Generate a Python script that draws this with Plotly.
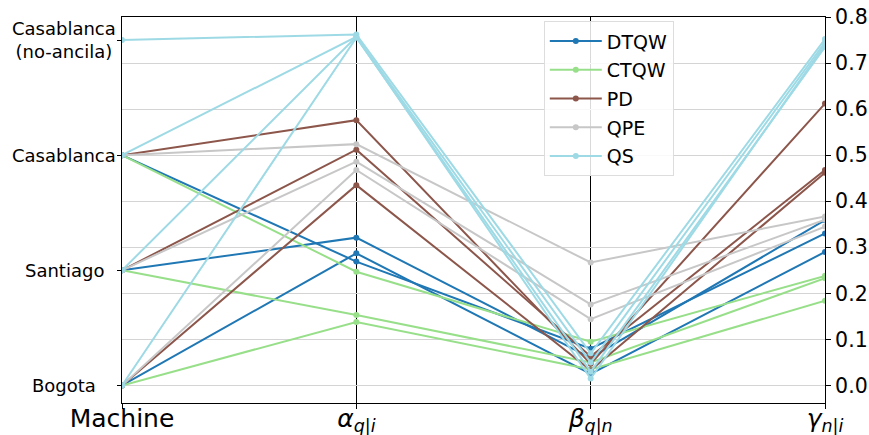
import plotly.graph_objects as go

# ---- data ----
machines = ["Bogota", "Santiago", "Casablanca", "Casablanca<br>(no-ancila)"]
axis_labels = ["Machine", "<i>α</i><sub><i>q|i</i></sub>",
               "<i>β</i><sub><i>q|n</i></sub>", "<i>γ</i><sub><i>n|i</i></sub>"]

algorithms = ["DTQW", "CTQW", "PD", "QPE", "QS"]
colors = {"DTQW": "#1f77b4", "CTQW": "#98df8a", "PD": "#8c564b",
          "QPE": "#c7c7c7", "QS": "#9edae5"}

dtqw_machine = ["Bogota", "Santiago", "Casablanca"]
dtqw_alpha = [0.287, 0.321, 0.269]
dtqw_beta = [0.025, 0.060, 0.080]
dtqw_gamma = [0.290, 0.359, 0.330]

ctqw_machine = ["Bogota", "Santiago", "Casablanca"]
ctqw_alpha = [0.138, 0.153, 0.247]
ctqw_beta = [0.035, 0.050, 0.095]
ctqw_gamma = [0.184, 0.233, 0.238]

pd_machine = ["Bogota", "Santiago", "Casablanca"]
pd_alpha = [0.435, 0.512, 0.576]
pd_beta = [0.033, 0.063, 0.047]
pd_gamma = [0.462, 0.468, 0.612]

qpe_machine = ["Bogota", "Santiago", "Casablanca"]
qpe_alpha = [0.468, 0.486, 0.524]
qpe_beta = [0.144, 0.176, 0.267]
qpe_gamma = [0.345, 0.360, 0.367]

qs_machine = ["Bogota", "Santiago", "Casablanca", "Casablanca<br>(no-ancila)"]
qs_alpha = [0.755, 0.757, 0.757, 0.762]
qs_beta = [0.030, 0.015, 0.050, 0.070]
qs_gamma = [0.735, 0.740, 0.745, 0.752]

y_ticks = [0.0, 0.1, 0.2, 0.3, 0.4, 0.5, 0.6, 0.7, 0.8]

series = {
    "DTQW": (dtqw_machine, dtqw_alpha, dtqw_beta, dtqw_gamma),
    "CTQW": (ctqw_machine, ctqw_alpha, ctqw_beta, ctqw_gamma),
    "PD": (pd_machine, pd_alpha, pd_beta, pd_gamma),
    "QPE": (qpe_machine, qpe_alpha, qpe_beta, qpe_gamma),
    "QS": (qs_machine, qs_alpha, qs_beta, qs_gamma),
}

# machine categories encoded on the shared numeric scale
machine_code = {m: i * 0.25 for i, m in enumerate(machines)}

fig = go.Figure()
xs = list(range(len(axis_labels)))
for alg in algorithms:
    mach, a, b, g = series[alg]
    for k in range(len(mach)):
        fig.add_trace(go.Scatter(
            x=xs, y=[machine_code[mach[k]], a[k], b[k], g[k]],
            mode="lines+markers", name=alg, legendgroup=alg,
            showlegend=(k == 0),
            line=dict(color=colors[alg], width=2),
            marker=dict(color=colors[alg], size=6),
            yaxis="y",
        ))

# invisible trace to activate left categorical axis
fig.add_trace(go.Scatter(x=[0], y=[0], yaxis="y2", mode="markers",
                         marker=dict(opacity=0), showlegend=False,
                         hoverinfo="skip"))

# centred machine labels on the left axis
for m in machines:
    fig.add_annotation(text=m, xref="paper", x=-0.0825, xanchor="center",
                       yref="y", y=machine_code[m], yanchor="middle",
                       showarrow=False, align="center",
                       font=dict(size=18, family="DejaVu Sans",
                                 color="black"))

yr = [-0.038, 0.8]
fig.update_layout(
    width=869, height=435,
    margin=dict(l=122, r=44, t=17, b=32),
    paper_bgcolor="white", plot_bgcolor="white",
    font=dict(family="DejaVu Sans", color="black"),
    xaxis=dict(range=[0, 3], tickvals=xs, ticktext=axis_labels,
               tickfont=dict(size=25), showgrid=True, gridcolor="black",
               gridwidth=1, showline=True, mirror=True, linecolor="black",
               linewidth=1, ticks="outside", ticklen=5, tickcolor="black",
               zeroline=False, automargin=False, ticklabelstandoff=-12),
    yaxis=dict(range=yr, side="right", tickvals=y_ticks,
               tickformat=".1f", tickfont=dict(size=20.5),
               showgrid=True, gridcolor="#d4d4d4", gridwidth=1,
               showline=True, mirror=True, linecolor="black", linewidth=1,
               ticks="outside", ticklen=5, tickcolor="black", zeroline=False,
               automargin=False),
    yaxis2=dict(range=yr, overlaying="y", side="left",
                tickvals=[machine_code[m] for m in machines],
                showticklabels=False,
                showgrid=False, zeroline=False, showline=False,
                ticks="outside", ticklen=4, tickcolor="black",
                automargin=False),
    legend=dict(x=0.6, y=0.989, xanchor="left", yanchor="top",
                bgcolor="rgba(255,255,255,0.85)", bordercolor="#dddddd",
                borderwidth=1, font=dict(size=19), tracegroupgap=1,
                itemwidth=52),
    showlegend=True,
)

fig.write_html("out.html")
